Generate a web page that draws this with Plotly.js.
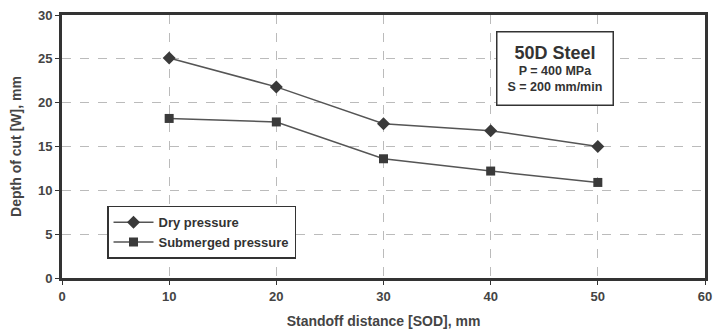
<!DOCTYPE html>
<html>
<head>
<meta charset="utf-8">
<script src="https://cdn.plot.ly/plotly-3.0.1.min.js"></script>
<style>html,body{margin:0;padding:0;background:#fff;}#chart{width:713px;height:333px;}</style>
</head>
<body>
<div id="chart"></div>
<script>
const sod = [10, 20, 30, 40, 50];
const dryPressure = [25.1, 21.8, 17.6, 16.8, 15.0];
const submergedPressure = [18.2, 17.8, 13.6, 12.2, 10.9];
const seriesNames = ["Dry pressure", "Submerged pressure"];
const xTicks = [0, 10, 20, 30, 40, 50, 60];
const yTicks = [0, 5, 10, 15, 20, 25, 30];

const font = "Liberation Sans, Arial, sans-serif";
const data = [
  {x: sod, y: dryPressure, name: seriesNames[0], type: "scatter", mode: "lines+markers",
   line: {color: "#555", width: 1.5}, marker: {symbol: "diamond", size: 10, color: "#3a3a3a"}},
  {x: sod, y: submergedPressure, name: seriesNames[1], type: "scatter", mode: "lines+markers",
   line: {color: "#555", width: 1.5}, marker: {symbol: "square", size: 9, color: "#3a3a3a"}}
];
const layout = {
  width: 713, height: 333,
  margin: {l: 62, r: 8, t: 15, b: 55},
  paper_bgcolor: "#fff", plot_bgcolor: "#fff",
  font: {family: font, color: "#333"},
  showlegend: true,
  legend: {x: 0.07, y: 0.275, xanchor: "left", yanchor: "top", bgcolor: "#fff",
    bordercolor: "#333", borderwidth: 1.5, font: {family: font, size: 13, color: "#333", weight: "bold"},
    tracegroupgap: 2, itemwidth: 40},
  xaxis: {range: [0, 60], tickvals: xTicks, ticks: "outside", ticklen: 4, tickcolor: "#333",
    showline: true, linecolor: "#333", linewidth: 3, mirror: true,
    showgrid: true, gridcolor: "#bbb", griddash: "dash", gridwidth: 1, zeroline: false,
    tickfont: {size: 13, color: "#444", weight: "bold"},
    title: {text: "Standoff distance [SOD], mm", font: {size: 14, color: "#444", weight: "bold"}, standoff: 14}},
  yaxis: {range: [0, 30], tickvals: yTicks, ticks: "outside", ticklen: 4, tickcolor: "#333",
    showline: true, linecolor: "#333", linewidth: 3, mirror: true,
    showgrid: true, gridcolor: "#bbb", griddash: "dash", gridwidth: 1, zeroline: false,
    tickfont: {size: 13, color: "#444", weight: "bold"},
    title: {text: "Depth of cut [W], mm", font: {size: 14, color: "#444", weight: "bold"}, standoff: 14}},
  annotations: [{
    xref: "paper", yref: "paper", x: 0.767, y: 0.795, xanchor: "center", yanchor: "middle",
    text: "<span style='font-size:18px'><b>50D Steel</b></span><br><b>P = 400 MPa</b><br><b>S = 200 mm/min</b>",
    showarrow: false, align: "center", font: {family: font, size: 12.5, color: "#333"},
    bgcolor: "#fff", bordercolor: "#333", borderwidth: 1.5, borderpad: 10
  }]
};
Plotly.newPlot("chart", data, layout, {displayModeBar: false, staticPlot: true});
</script>
</body>
</html>
